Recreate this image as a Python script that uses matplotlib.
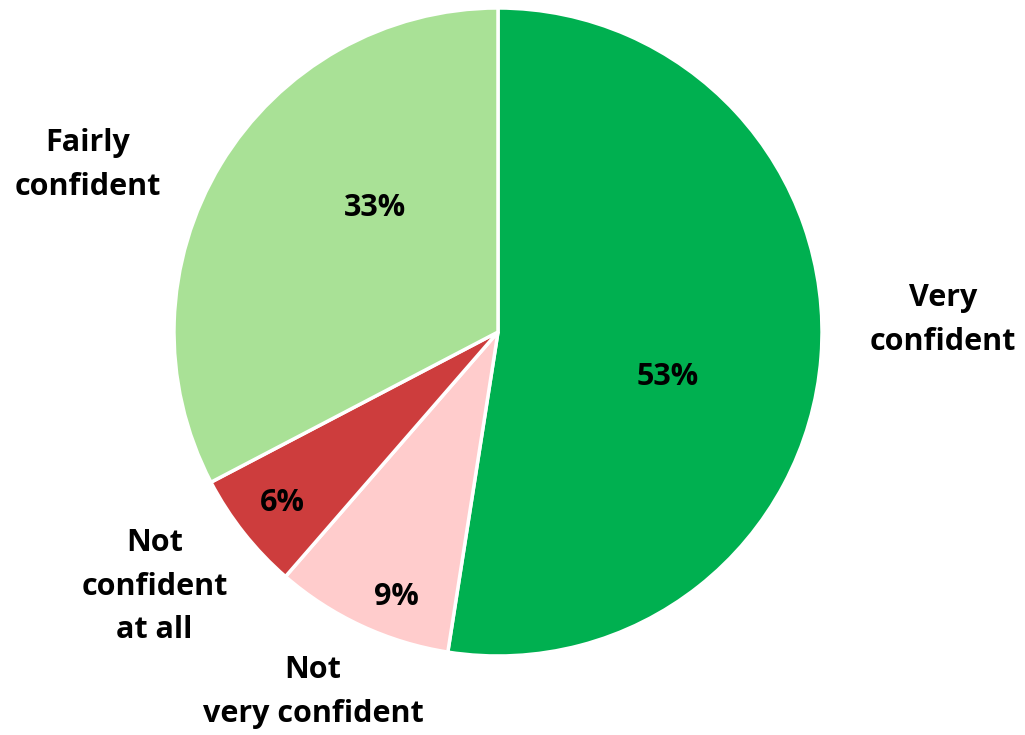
import matplotlib.pyplot as plt

plt.rcParams['font.family'] = ['Open Sans', 'DejaVu Sans']

categories = ["Very\nconfident", "Not\nvery confident", "Not\nconfident\nat all", "Fairly\nconfident"]
values = [53, 9, 6, 33]
colors = ["#00B050", "#FFCCCC", "#CD3D3D", "#A9E196"]

# label spots (data coords, pie radius = 1)
label_pos = [(1.373, 0.037), (-0.571, -1.111), (-1.06, -0.786), (-1.265, 0.515)]
pct_pos = [(0.525, -0.139), (-0.315, -0.818), (-0.667, -0.528), (-0.38, 0.383)]

fig = plt.figure(figsize=(10.25, 7.35), dpi=100)
R = 324
cx, cy = 498, 735 - 332
ax = fig.add_axes([(cx - R) / 1025, (cy - R) / 735, 2 * R / 1025, 2 * R / 735])

wedges, texts = ax.pie(
    values, colors=colors, startangle=90, counterclock=False,
    wedgeprops=dict(edgecolor="white", linewidth=2.5),
)
ax.set_xlim(-1, 1)
ax.set_ylim(-1, 1)
ax.set_aspect("equal")
ax.axis("off")

for name, v, (lx, ly), (px, py) in zip(categories, values, label_pos, pct_pos):
    ax.text(lx, ly, name, ha="center", va="center", fontsize=22,
            fontweight="bold", linespacing=1.6, clip_on=False)
    ax.text(px, py, f"{v}%", ha="center", va="center", fontsize=22,
            fontweight="bold")

fig.savefig("out.png", dpi=100)
